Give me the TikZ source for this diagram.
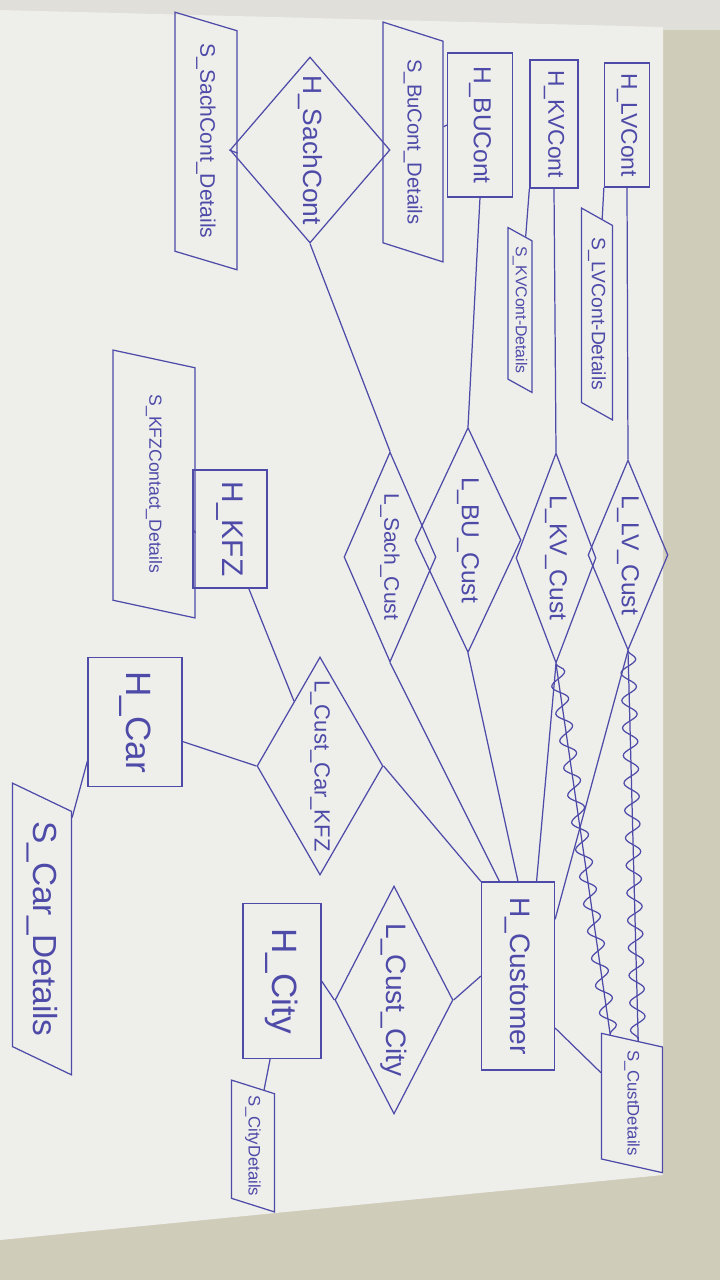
\documentclass[tikz,border=0pt]{standalone}
\usepackage{fontspec}
\setmainfont{Liberation Sans}
\usetikzlibrary{shapes.geometric,calc,decorations.pathmorphing}
\definecolor{ink}{RGB}{78,74,168}
\definecolor{paper}{RGB}{238,238,235}
\definecolor{desk}{RGB}{208,204,186}
\definecolor{sheet}{RGB}{224,223,218}
\newcommand{\fs}[1]{\fontsize{#1}{#1}\selectfont}

\begin{document}
\begin{tikzpicture}[x=0.02cm,y=-0.02cm,line width=0.7pt,
    hub/.style={draw=ink,text=ink,rotate=-90,inner sep=1pt,font=\fs{13}},
    lnk/.style={draw=ink,text=ink,diamond,rotate=-90,inner sep=0pt,aspect=2,font=\fs{13}},
    sat/.style={draw=ink,text=ink,trapezium,trapezium left angle=50,trapezium right angle=130,
      trapezium stretches=true,rotate=-90,inner sep=0pt,font=\fs{11}},
    wavy/.style={draw=ink,decorate,decoration={snake,segment length=0.55cm,amplitude=0.15cm}}]
  \useasboundingbox (0,0) rectangle (720,1280);
  % photo: desk, sheet behind, paper
  \fill[desk] (0,0) rectangle (720,1280);
  \fill[sheet] (0,0) rectangle (720,30);
  \fill[paper] (0,10) -- (663,27) -- (663,1175) -- (0,1240) -- cycle;

  % top row
  \node[sat,minimum width=5.16cm,minimum height=1.24cm,font=\fs{12}] (sSach) at (206,141) {S\_SachCont\_Details};
  \node[lnk,minimum width=3.72cm,minimum height=3.2cm,aspect=1.3,font=\fs{15}] (hSach) at (310,150) {H\_SachCont};
  \node[sat,minimum width=4.8cm,minimum height=1.2cm,font=\fs{11.5}] (sBU) at (413,142) {S\_BuCont\_Details};
  \node[hub,minimum width=2.88cm,minimum height=1.3cm,font=\fs{14}] (hBU) at (480,125) {H\_BUCont};
  \node[hub,minimum width=2.56cm,minimum height=0.96cm] (hKV) at (554,124) {H\_KVCont};
  \node[hub,minimum width=2.48cm,minimum height=0.9cm] (hLV) at (627,125) {H\_LVCont};
  \node[sat,minimum width=3.32cm,minimum height=0.48cm,font=\fs{9}] (sKV) at (520,310) {S\_KVCont-Details};
  \node[sat,minimum width=4.24cm,minimum height=0.62cm,font=\fs{11}] (sLV) at (597,314) {S\_LVCont-Details};

  % links to customer
  \node[lnk,minimum width=4.2cm,minimum height=1.84cm,aspect=2.3,font=\fs{12}] (lSach) at (390,557) {L\_Sach\_Cust};
  \node[lnk,minimum width=4.5cm,minimum height=2.12cm,aspect=2.1,font=\fs{14}] (lBU) at (468,540) {L\_BU\_Cust};
  \node[lnk,minimum width=4.2cm,minimum height=1.6cm,aspect=2.6,font=\fs{14}] (lKV) at (556,558) {L\_KV\_Cust};
  \node[lnk,minimum width=3.8cm,minimum height=1.6cm,aspect=2.4,font=\fs{14}] (lLV) at (628,555) {L\_LV\_Cust};

  % car side
  \node[sat,minimum width=5.36cm,minimum height=1.64cm,font=\fs{10}] (sKFZ) at (154,484) {S\_KFZContact\_Details};
  \node[hub,minimum width=2.36cm,minimum height=1.48cm,font=\fs{17}] (hKFZ) at (230,529) {H\_KFZ};
  \node[hub,minimum width=2.58cm,minimum height=1.88cm,font=\fs{20}] (hCar) at (135,722) {H\_Car};
  \node[sat,minimum width=5.84cm,minimum height=1.18cm,font=\fs{19}] (sCar) at (42,929) {S\_Car\_Details};
  \node[lnk,minimum width=4.36cm,minimum height=2.52cm,aspect=1.8,font=\fs{12.5}] (lCar) at (320,766) {L\_Cust\_Car\_KFZ};

  % customer and city
  \node[hub,minimum width=3.76cm,minimum height=1.46cm,font=\fs{16}] (hCust) at (518,976) {H\_Customer};
  \node[lnk,minimum width=4.56cm,minimum height=2.36cm,aspect=2,font=\fs{16}] (lCity) at (394,1000) {L\_Cust\_City};
  \node[hub,minimum width=3.1cm,minimum height=1.56cm,font=\fs{20}] (hCity) at (282,981) {H\_City};
  \node[sat,minimum width=2.64cm,minimum height=0.86cm,font=\fs{9.5}] (sCity) at (253,1146) {S\_CityDetails};
  \node[sat,minimum width=2.8cm,minimum height=1.22cm,font=\fs{9.5}] (sCust) at (632,1103) {S\_CustDetails};

  \begin{scope}[draw=ink]
    \draw (hSach.south) -- (sSach);
    \draw (hBU.south) -- (sBU);
    \draw (hKFZ.south) -- (sKFZ);
    \draw (hSach.east) -- (lSach.west);
    \draw (hBU.east) -- (lBU.west);
    \draw (hKV.east) -- (lKV.west);
    \draw (hLV.east) -- (lLV.west);
    \draw (hKV.south east) -- (sKV);
    \draw (hLV.south east) -- (sLV);
    \draw ($(hKFZ.east)!0.5!(hKFZ.north east)$) -- (lCar);
    \draw ($(hCar.north)!0.3!(hCar.north east)$) -- (lCar.south);
    \draw ($(hCar.south)!0.6!(hCar.south east)$) -- (sCar);
    \draw (lCar.north) -- (hCust.south west);
    \draw (lSach.east) -- ($(hCust.south west)!0.25!(hCust.north west)$);
    \draw (lBU.east) -- ($(hCust.south west)!0.5!(hCust.north west)$);
    \draw (lKV.east) -- ($(hCust.south west)!0.75!(hCust.north west)$);
    \draw (lLV.east) -- ($(hCust.north west)!0.2!(hCust.north east)$);
    \draw (hCust.south) -- (lCity.north);
    \draw (lCity.south) -- (hCity.north);
    \draw ($(hCity.east)!0.3!(hCity.south east)$) -- (sCity);
    \draw ($(hCust.north)!0.55!(hCust.north east)$) -- (sCust);
    % wavy pairs into the customer satellite
    \coordinate (kvEnd) at ($(sCust.bottom left corner)!0.15!(sCust.top left corner)$);
    \coordinate (lvEnd) at ($(sCust.bottom left corner)!0.6!(sCust.top left corner)$);
    \draw (lKV.east) -- (kvEnd);
    \draw[wavy] (lKV.east) -- (kvEnd);
    \draw (lLV.east) -- (lvEnd);
    \draw[wavy] (lLV.east) -- (lvEnd);
  \end{scope}
\end{tikzpicture}
\end{document}
